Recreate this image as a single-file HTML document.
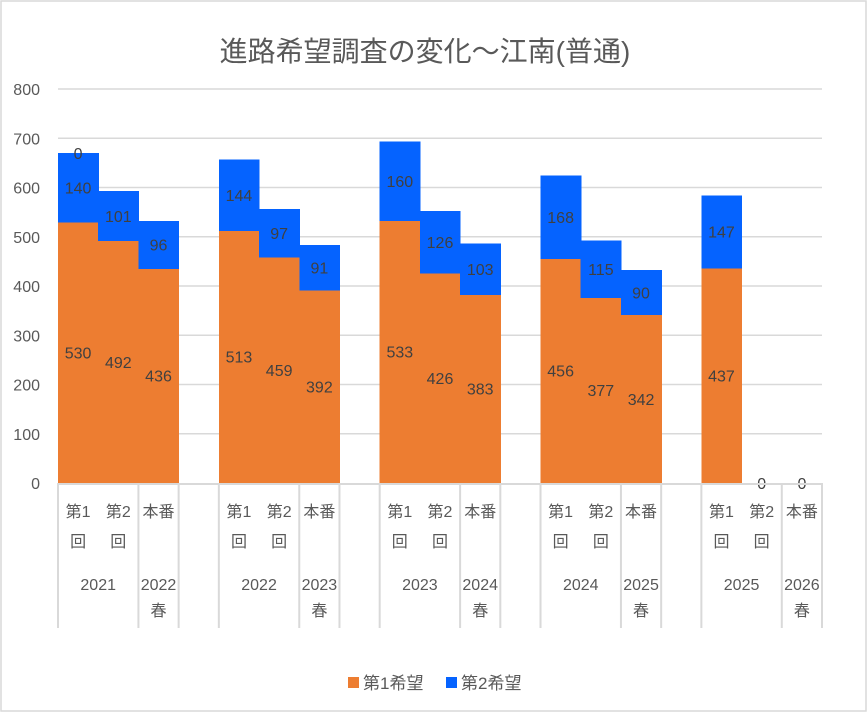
<!DOCTYPE html>
<html><head><meta charset="utf-8"><style>
html,body{margin:0;padding:0;background:#fff}
svg text{font-family:"Liberation Sans","Noto Sans CJK JP",sans-serif}
</style></head><body>
<svg id="chart" width="868" height="713" xmlns="http://www.w3.org/2000/svg">
<rect x="1" y="1" width="865" height="710" fill="#fff" stroke="#d9d9d9" stroke-width="1.5"/>
<text x="425" y="61" text-anchor="middle" font-size="28" fill="#595959">進路希望調査の変化～江南(普通)</text>
<g id="grid"></g><g id="bars" shape-rendering="crispEdges"></g><g id="labels"></g><g id="axis"></g>
<g>
<rect x="348" y="677" width="11" height="11" fill="#ED7D31"/>
<text x="363" y="689" font-size="17" fill="#595959">第1希望</text>
<rect x="446" y="677" width="11" height="11" fill="#0563FF"/>
<text x="461" y="689" font-size="17" fill="#595959">第2希望</text>
</g>
</svg>
<script>
const years = ["2021","2022","2023","2024","2025"];
const finals = ["2022","2023","2024","2025","2026"];
const firstChoice = [530,492,436, 513,459,392, 533,426,383, 456,377,342, 437,0,0];
const secondChoice = [140,101,96, 144,97,91, 160,126,103, 168,115,90, 147,0,0];
const yTicks = [0,100,200,300,400,500,600,700,800];
const NS="http://www.w3.org/2000/svg";
const x0=58,x1=822,slot=(x1-x0)/19,yBase=483,yTop=89,yMax=800;
const y=v=>yBase-(v/yMax)*(yBase-yTop);
const xs=i=>x0+(Math.floor(i/3)*4+(i%3))*slot;
function mk(tag,attrs,parent,txt){const e=document.createElementNS(NS,tag);for(const k in attrs)e.setAttribute(k,attrs[k]);if(txt!==undefined)e.textContent=txt;parent.appendChild(e);return e;}
const grid=document.getElementById('grid'),bars=document.getElementById('bars'),labels=document.getElementById('labels'),axis=document.getElementById('axis');
yTicks.forEach(t=>{
 if(t>0){const l=mk('line',{x1:x0,x2:x1,y1:y(t),y2:y(t),stroke:'#d9d9d9','stroke-width':1.5},grid);
 
 }
 const tx=mk('text',{x:40,y:y(t)+6,'text-anchor':'end','font-size':16,fill:'#595959'},grid,t);
 
 
});
firstChoice.forEach((v,i)=>{
 const x=xs(i),s=secondChoice[i];
 const r1=mk('rect',{x:x,y:y(v),width:slot+0.6,height:yBase-y(v),fill:'#ED7D31'},bars);
 
 
 const r2=mk('rect',{x:x,y:y(v+s),width:slot+0.6,height:y(v)-y(v+s)+0.5,fill:'#0563FF'},bars);
 
 
 const cx=x+slot/2;
 if(v>0){const a=mk('text',{x:cx,y:y(v/2)+6,'text-anchor':'middle','font-size':16,fill:'#404040'},labels,v);
  
  
  const b=mk('text',{x:cx,y:y(v+s/2)+6,'text-anchor':'middle','font-size':16,fill:'#404040'},labels,s);
  
  }
 else{const z=mk('text',{x:cx,y:yBase+6,'text-anchor':'middle','font-size':16,fill:'#404040'},labels,0);
  
  }
});
const z0=mk('text',{x:xs(0)+slot/2,y:y(firstChoice[0]+secondChoice[0])+6,'text-anchor':'middle','font-size':16,fill:'#404040'},labels,0);


const base=mk('line',{x1:x0,x2:x1,y1:yBase+1,y2:yBase+1,stroke:'#d9d9d9','stroke-width':2},axis);


years.forEach((yr,g)=>{
 const gx=x0+g*4*slot;
 [gx,gx+2*slot,gx+3*slot].forEach((lx,k)=>{const l=mk('line',{x1:lx,x2:lx,y1:yBase,y2:628,stroke:'#d9d9d9','stroke-width':2},axis);
  
  });
 ['第1','第2'].forEach((t,k)=>{const cx=gx+slot*k+slot/2;
  const a=mk('text',{x:cx,y:517,'text-anchor':'middle','font-size':16,fill:'#595959'},axis,t);
  
  
  const b=mk('text',{x:cx,y:547,'text-anchor':'middle','font-size':16,fill:'#595959'},axis,'回');
  
  });
 const hn=mk('text',{x:gx+2.5*slot,y:517,'text-anchor':'middle','font-size':16,fill:'#595959'},axis,'本番');
 
 
 const yl=mk('text',{x:gx+slot,y:590,'text-anchor':'middle','font-size':16,fill:'#595959'},axis,yr);
 
 
 const fl=mk('text',{x:gx+2.5*slot,y:590,'text-anchor':'middle','font-size':16,fill:'#595959'},axis,finals[g]);
 
 
 const sp=mk('text',{x:gx+2.5*slot,y:616,'text-anchor':'middle','font-size':16,fill:'#595959'},axis,'春');
 
 
});
</script>
</body></html>
